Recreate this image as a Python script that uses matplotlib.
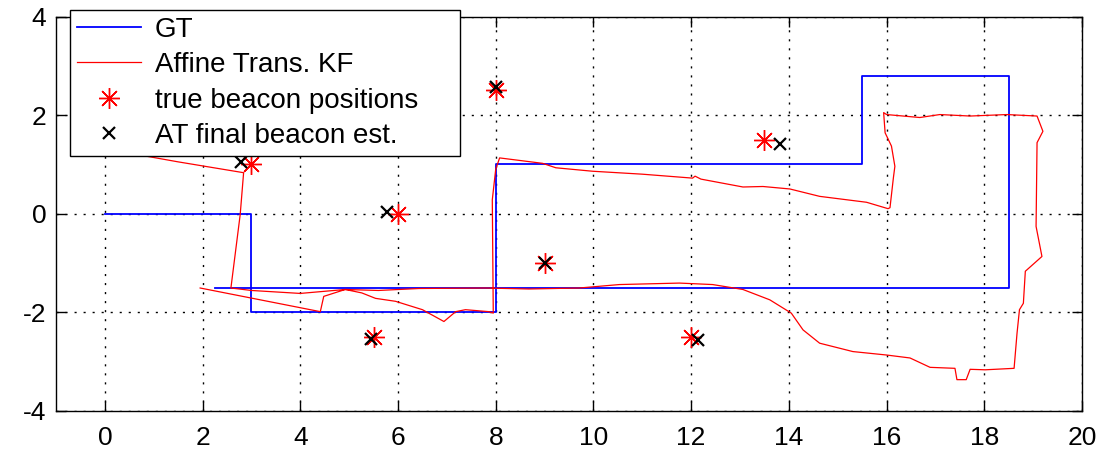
import matplotlib
matplotlib.use('Agg')
import matplotlib.pyplot as plt

# ground truth path
gt_x = [0, 3, 3, 8, 8, 15.5, 15.5, 18.5, 18.5, 2.25]
gt_y = [0, 0, -2, -2, 1, 1, 2.8, 2.8, -1.5, -1.5]

# affine trans. KF estimate
kf_x = [0.2, 1.5, 2.84, 2.77, 2.58, 3.0, 4.0, 4.92, 5.26, 5.54, 5.95, 6.5, 6.94, 7.18,
        7.38, 7.86, 7.95, 7.93, 8.0, 8.08, 8.96, 9.23, 9.98, 11.0, 12.03, 12.08, 12.2,
        13.06, 13.47, 14.02, 14.63, 15.59, 16.03, 16.07, 16.14, 16.17, 16.1, 15.97, 15.94,
        16.0, 16.68, 17.09, 17.71, 18.46, 19.08, 19.2, 19.08, 19.06, 19.18, 18.84, 18.8,
        18.72, 18.67, 18.61, 18.02, 17.71, 17.63, 17.44, 17.4, 16.89, 16.48, 16.0, 15.31,
        14.63, 14.29, 14.05, 13.61, 13.06, 12.44, 11.76, 10.53, 9.71, 8.68, 7.79, 6.43,
        5.6, 4.92, 4.48, 4.41, 1.95]
kf_y = [1.28, 1.05, 0.83, -0.02, -1.51, -1.56, -1.62, -1.54, -1.61, -1.72, -1.78, -1.95,
        -2.19, -1.99, -1.95, -1.99, -2.02, 0.28, 0.9, 1.13, 1.02, 0.93, 0.86, 0.8, 0.72,
        0.76, 0.7, 0.54, 0.55, 0.5, 0.35, 0.23, 0.1, 0.12, 0.73, 0.96, 1.37, 1.64, 2.05,
        2.01, 1.95, 2.01, 1.98, 2.01, 1.98, 1.67, 1.44, -0.26, -0.87, -1.17, -1.82, -1.95,
        -2.43, -3.14, -3.17, -3.16, -3.37, -3.37, -3.14, -3.12, -2.93, -2.87, -2.8, -2.63,
        -2.36, -2.02, -1.75, -1.54, -1.44, -1.41, -1.44, -1.51, -1.53, -1.51, -1.52,
        -1.56, -1.54, -1.68, -1.99, -1.51]

# beacons
true_bx = [3, 6, 8, 9, 13.5, 5.5, 12]
true_by = [1, 0, 2.5, -1, 1.5, -2.5, -2.5]
est_bx = [2.78, 5.78, 8.0, 9.0, 13.82, 5.45, 12.15]
est_by = [1.04, 0.03, 2.57, -1.0, 1.42, -2.55, -2.57]

xticks = [0, 2, 4, 6, 8, 10, 12, 14, 16, 18, 20]
yticks = [-4, -2, 0, 2, 4]

plt.rcParams['font.family'] = ['Liberation Sans', 'DejaVu Sans']
plt.rcParams['axes.unicode_minus'] = False

fig = plt.figure(figsize=(11.01, 4.53), dpi=100)
ax = fig.add_axes([56 / 1101, (453 - 410.7) / 453, (1082 - 56) / 1101, (410.7 - 16.5) / 453])

ax.plot(gt_x, gt_y, color='blue', lw=1.3, label='GT')
ax.plot(kf_x, kf_y, color='red', lw=0.9, label='Affine Trans. KF')
ax.plot(true_bx, true_by, ls='none', marker=(8, 2, 0), ms=15, mec='red', mew=1.0,
        color='red', label='true beacon positions')
ax.plot(est_bx, est_by, ls='none', marker='x', ms=9, mec='black', mew=1.6,
        color='black', label='AT final beacon est.')

ax.set_xlim(-1, 20)
ax.set_ylim(-4, 4)
ax.set_xticks(xticks)
ax.set_yticks(yticks)
ax.grid(True, color='black', ls=(0, (1.5, 5)), lw=1.0)
ax.tick_params(direction='in', length=7, width=1, labelsize=19, top=True, right=True,
               pad=11)
ax.tick_params(axis='y', pad=7)
for s in ax.spines.values():
    s.set_linewidth(1.0)

# legend box pokes above the axes like the original
leg = ax.legend(loc='upper left', bbox_to_anchor=(70 / 1101, 1 - 156 / 453, 390 / 1101, 146.5 / 453),
                bbox_transform=fig.transFigure, mode='expand', fontsize=20, numpoints=1,
                handlelength=2.3, handletextpad=0.5, labelspacing=0.34,
                borderpad=0.26, borderaxespad=0, fancybox=False, framealpha=1,
                edgecolor='black')
leg.get_frame().set_linewidth(1.0)

fig.savefig('out.png', dpi=100)
